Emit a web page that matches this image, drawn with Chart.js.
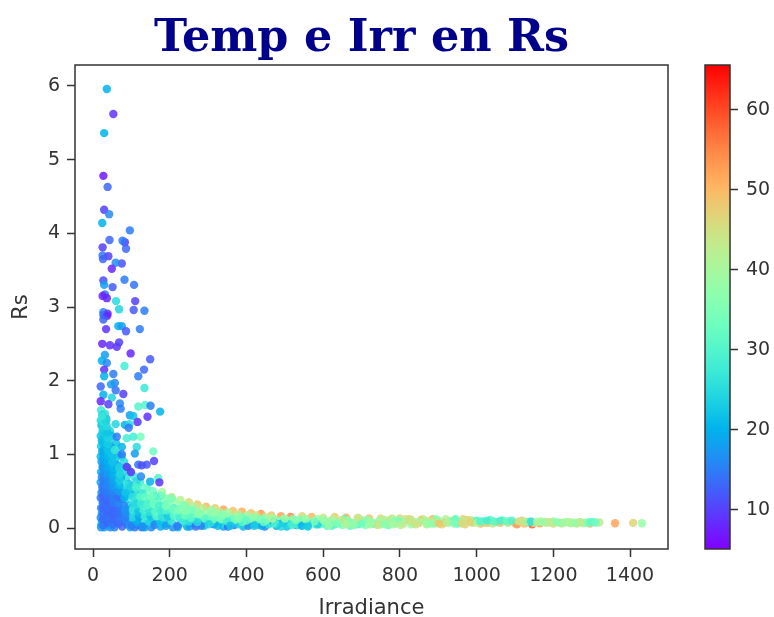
<!DOCTYPE html>
<html>
<head>
  <title>Temp e Irr en Rs</title>
  <script src="https://cdn.jsdelivr.net/npm/chart.js"></script>
  <style>
    html, body { margin: 0; padding: 0; background: #fff; }
    body { width: 774px; height: 617px; position: relative; overflow: hidden; }
    h1 { position: absolute; left: 0; top: 9px; width: 723px; margin: 0; text-align: center;
         font: bold 44.5px "DejaVu Serif", serif; color: #00008b; filter: blur(0.5px); }
    .box { position: absolute; top: 0; height: 617px; filter: blur(0.75px); }
    #main { left: 0; width: 700px; }
    #bar { left: 700px; width: 74px; }
  </style>
</head>
<body>
  <h1>Temp e Irr en Rs</h1>
  <div class="box" id="main"><canvas id="scatter" width="700" height="617"></canvas></div>
  <div class="box" id="bar"><canvas id="colorbar" width="74" height="617"></canvas></div>

  <script>
    const xTicks = [0, 200, 400, 600, 800, 1000, 1200, 1400];
    const yTicks = [0, 1, 2, 3, 4, 5, 6];
    const barTicks = [10, 20, 30, 40, 50, 60];
    const TEMP_MIN = 5.1, TEMP_MAX = 65.6;

    // tail of the cloud, drawn first so the rest sits on top
    const bandIrr = [
      180,205,228,250,272,295,318,340,365,388,412,438,
      465,490,515,545,570,600,630,660,690,720,750,780,
      190,212,240,262,285,308,330,352,378,402,425,450,
      245,270,298,325,348,372,395,420,445,470,495,520,
      250,275,300,330,355,382,410,436,462,490,515,540,
      245,265,290,315,340,368,392,418,448,478,505,530,
      545,565,585,600,620,640,655,675,695,715,735,755,
      560,580,610,630,650,670,690,710,730,750,770,790,
      800,825,860,885,920,945,965,985,
      775,795,815,835,855,875,895,915,935,955,975,995,
      810,830,850,870,890,910,930,950,970,990,1010,1030,
      1105,1125,1145,1165,1182,1200,1218,1235,1250,1268,1285,1305,
      1000,1018,1036,1052,1068,1085,1100,1118,1135,1150,1168,1185,
      1200,1222,1245,1262,1278,1295,1320,1361,1408,1431
    ];
    const bandRs = [
      .49,.42,.38,.35,.32,.29,.27,.25,.23,.22,.2,.19,
      .17,.16,.15,.16,.15,.14,.15,.14,.14,.13,.13,.13,
      .4,.36,.31,.29,.27,.24,.22,.21,.19,.17,.17,.15,
      .25,.22,.21,.18,.15,.16,.13,.14,.12,.13,.11,.12,
      .17,.14,.12,.11,.09,.1,.08,.09,.07,.08,.06,.07,
      .02,.06,.03,.05,.02,.04,.02,.05,.02,.03,.02,.04,
      .11,.07,.12,.06,.1,.08,.12,.05,.09,.11,.06,.1,
      .03,.05,.03,.05,.04,.03,.05,.04,.06,.05,.04,.06,
      .13,.12,.12,.12,.12,.12,.12,.11,
      .11,.08,.12,.07,.11,.09,.12,.07,.1,.08,.11,.09,
      .06,.05,.07,.05,.06,.05,.08,.06,.05,.07,.06,.07,
      .05,.06,.05,.065,.07,.09,.07,.08,.075,.08,.07,.08,
      .1,.09,.11,.08,.1,.09,.07,.1,.08,.07,.09,.08,
      .06,.06,.065,.06,.065,.06,.075,.065,.07,.065
    ];
    const bandTemp = [
      40,44,42,46,48,50,47,52,49,51,48,53,
      48,52,55,46,50,44,47,51,45,49,46,43,
      36,38,37,40,42,39,44,41,43,40,45,42,
      34,36,38,35,37,40,36,38,35,39,37,36,
      30,32,28,31,27,33,29,26,30,28,31,29,
      20,17,22,15,19,14,21,17,16,20,22,18,
      35,30,38,33,42,36,31,39,44,37,34,41,
      28,33,31,27,35,32,29,36,30,38,33,35,
      46,48,44,50,42,31,47,43,
      42,38,45,40,47,43,36,49,41,34,46,39,
      44,38,48,41,35,46,32,30,47,44,50,48,
      54,50,58,52,43,38,48,36,42,40,34,33,
      30,29,32,28,31,33,52,48,27,44,40,46,
      46,42,40,45,38,50,43,52,47,38
    ];

    // more of the band, filling the gaps
    const fillIrr = [
      235,258,280,305,322,345,362,385,405,430,455,480,505,525,550,575,
      240,262,288,310,335,358,380,405,428,458,482,510,535,560,590,618,
      252,282,325,352,405,440,470,495,545,585,
      292,312,335,350,370,390,412,435,452,475,500,520,
      302,318,338,358,378,400,420,445,468,490,530,555,
      605,625,645,665,685,705,725,745,765,785,805,825,845,865,885,905,925,945,965,985,
      560,578,600,622,648,672,695,725,760,795,830,870,
      615,635,660,680,700,722,742,762,782,802,842,882,902,942,962,1002,1022,1042,1062,1082,
      1010,1028,1045,1062,1078,1092,1110,1128,1142,1158,1175,1192,1210,1228,1242,1258,1272,1290,1298,1310
    ];
    const fillRs = [
      .27,.24,.18,.17,.14,.18,.12,.15,.11,.11,.09,.1,.09,.1,.09,.08,
      .11,.09,.07,.08,.06,.06,.05,.05,.04,.05,.05,.05,.04,.06,.05,.07,
      .02,.03,.03,.02,.03,.03,.09,.07,.03,.05,
      .13,.12,.12,.09,.11,.08,.13,.12,.11,.06,.13,.04,
      .05,.21,.18,.03,.13,.1,.03,.08,.13,.02,.11,.12,
      .09,.11,.07,.1,.08,.1,.08,.09,.07,.09,.09,.1,.08,.1,.08,.09,.07,.1,.09,.08,
      .02,.09,.11,.03,.11,.07,.12,.07,.11,.1,.11,.06,
      .04,.06,.05,.04,.06,.05,.04,.05,.05,.04,.05,.06,.06,.06,.06,.07,.07,.06,.07,.07,
      .09,.1,.09,.1,.09,.1,.09,.085,.09,.085,.08,.075,.08,.075,.08,.07,.08,.075,.08,.075
    ];
    const fillTemp = [
      32,35,33,37,34,38,32,36,34,37,33,36,35,38,34,36,
      27,24,26,29,25,28,24,27,23,26,21,25,28,24,30,32,
      18,15,21,14,16,19,20,22,20,24,
      31,33,35,29,34,31,37,35,38,30,38,29,
      24,38,36,22,36,32,23,33,40,24,36,38,
      37,40,34,39,42,36,41,38,43,36,40,44,38,41,45,39,42,33,44,47,
      23,34,38,30,43,35,44,37,42,35,44,39,
      38,35,41,37,33,39,44,36,40,42,45,37,49,35,46,41,47,44,49,46,
      30,28,31,29,32,30,44,42,26,40,38,42,36,39,41,37,43,35,31,33
    ];

    // dense corner at low irradiance, one line per column, right to left
    const blobIrr = [
      232,218,240,225,236,221,
      205,193,210,198,202,192,208,
      178,170,184,172,180,169,176,
      156,163,151,160,154,166,158,152,
      140,134,146,137,143,133,145,139,135,
      123,118,128,120,126,119,130,122,117,127,
      107,113,102,110,104,115,100,108,112,103,109,
      90,96,86,93,88,98,85,95,91,87,94,89,97,
      75,81,71,78,73,82,70,79,74,80,72,77,83,76,
      60,55,64,58,62,56,65,59,54,63,57,61,55,64,58,62,56,
      44,49,41,47,43,50,42,48,45,40,46,43,49,41,47,44,50,42,48,45,
      31,35,29,33,36,28,34,30,35,32,28,36,30,34,29,33,35,31,28,34,32,30,36,29,
      21,24,20,22,25,20,23,21,24,20,22,25,21,23,20,24,22,20,25,21,23,20,24,22,21
    ];
    const blobRs = [
      .31,.26,.2,.14,.07,.01,
      .4,.33,.27,.2,.13,.06,.01,
      .44,.37,.3,.23,.16,.09,.02,
      .5,.43,.36,.29,.22,.15,.08,.01,
      .55,.48,.4,.33,.26,.19,.12,.06,.01,
      .62,.55,.47,.39,.32,.25,.17,.1,.04,.01,
      .7,.63,.56,.48,.41,.34,.27,.2,.13,.07,.01,
      .82,.76,.68,.6,.53,.46,.39,.31,.24,.17,.1,.05,.01,
      .97,.9,.82,.75,.68,.6,.53,.46,.39,.31,.23,.16,.09,.02,
      1.15,1.08,1,.93,.86,.78,.71,.64,.57,.5,.43,.36,.29,.22,.15,.08,.01,
      1.32,1.25,1.18,1.1,1.03,.96,.88,.81,.74,.67,.6,.52,.45,.38,.31,.24,.17,.1,.04,.01,
      1.55,1.48,1.41,1.34,1.27,1.2,1.13,1.05,.98,.91,.84,.76,.69,.62,.55,.48,.41,.34,.27,.2,.13,.08,.04,.01,
      1.6,1.53,1.46,1.39,1.32,1.25,1.18,1.11,1.04,.97,.9,.83,.76,.69,.62,.55,.48,.41,.34,.27,.2,.14,.09,.05,.01
    ];
    const blobTemp = [
      36,33,30,26,24,19,
      35,34,30,27,24,22,17,
      33,31,29,24,27,21,19,
      32,30,28,33,25,29,20,16,
      31,33,29,27,30,24,22,26,19,
      28,30,27,32,25,29,22,26,18,15,
      27,25,29,24,28,22,26,23,27,20,14,
      24,27,26,22,25,21,28,23,18,20,24,17,19,
      23,25,21,24,20,26,22,19,16,15,14,20,17,13,
      22,24,20,23,19,21,25,18,17,15,14,13,13,14,16,18,15,
      24,21,23,19,20,22,18,17,20,16,15,14,13,14,13,14,15,17,19,16,
      26,22,24,20,23,19,21,18,20,17,19,16,15,14,15,13,14,13,14,15,17,14,20,18,
      27,23,25,21,24,22,20,23,18,21,19,17,20,16,18,15,17,14,16,15,18,16,19,21,17
    ];

    // second pass over the corner, where the first left white gaps
    const gapIrr = [
      100,115,130,145,160,175,190,205,220,235,250,268,
      105,120,135,150,165,180,195,210,225,240,255,272,
      102,118,132,148,162,178,192,208,222,238,256,278,
      110,125,142,158,172,190,105,122,136,152,95,112,
      27,38,52,67,26,39,53,68,84,27,38,54,
      68,84,26,39,52,67,83,27,38,53,68,26,
      39,53,67,82,27,38,52,68,84,27,39,53,
      69,27,39,52,68,27,38,52,70,26,38,52,
      69,27,38,50,27,38,50,27,38,27,38,27,
      38,26,37,26,36,25,34,24
    ];
    const gapRs = [
      .03,.08,.02,.09,.04,.07,.03,.09,.03,.1,.09,.02,
      .15,.15,.16,.16,.16,.15,.16,.17,.17,.17,.2,.08,
      .24,.22,.24,.22,.22,.24,.24,.25,.24,.24,.14,.2,
      .32,.33,.31,.33,.3,.3,.42,.42,.42,.42,.55,.55,
      .04,.07,.05,.06,.12,.14,.12,.13,.13,.2,.21,.2,
      .2,.2,.27,.28,.27,.27,.26,.35,.35,.34,.34,.42,
      .43,.41,.41,.41,.5,.5,.5,.5,.48,.58,.58,.57,
      .58,.66,.66,.65,.65,.74,.74,.73,.73,.82,.82,.82,
      .82,.9,.9,.9,.98,.98,.98,1.06,1.06,1.14,1.14,1.22,
      1.22,1.3,1.3,1.38,1.38,1.45,1.45,1.52
    ];
    const gapTemp = [
      15,20,17,24,16,22,18,27,15,28,26,14,
      24,19,28,22,30,26,23,31,29,33,35,25,
      27,22,29,26,31,28,30,33,35,37,31,37,
      25,28,30,33,29,35,26,30,32,34,24,29,
      14,13,14,13,13,14,13,14,15,14,13,13,
      14,16,13,14,13,14,17,14,13,15,16,13,
      14,15,14,20,14,15,16,18,22,15,16,18,
      21,15,16,19,23,16,18,20,24,17,19,21,
      24,18,20,22,19,21,22,20,22,21,23,22,
      24,23,22,24,25,26,24,27
    ];

    // loose points above the cloud
    const sparseIrr = [
      36,53,29,27,38,29,42,24,96,83,43,77,25,86,25,40,26,75,59,49,27,82,107,51,29,31,25,36,60,110,68,106,134,27,38,
      27,37,27,34,66,75,86,122,24,44,62,68,98,31,23,149,36,82,29,133,29,53,118,57,47,20,134,59,79,27,49,20,40,70,72,
      118,136,150,175,142,96,105,116,59,83,95,93,124,105,88,62,114,75,157,109,75,57,159,140,118,127,88,99,125,170,149,173
    ];
    const sparseRs = [
      5.96,5.62,5.36,4.78,4.63,4.32,4.26,4.14,4.04,3.88,3.91,3.9,3.81,3.79,3.7,3.69,3.65,3.59,3.6,3.52,3.36,3.37,3.3,3.27,3.3,3.17,3.15,3.12,3.08,3.08,2.97,2.96,2.95,2.93,2.91,
      2.89,2.88,2.83,2.7,2.74,2.74,2.67,2.7,2.5,2.48,2.46,2.52,2.37,2.35,2.27,2.29,2.24,2.2,2.15,2.15,2.06,2.09,2.06,1.97,1.95,1.92,1.9,1.87,1.82,1.81,1.77,1.72,1.68,1.69,1.62,
      1.65,1.67,1.66,1.58,1.51,1.53,1.52,1.44,1.41,1.4,1.41,1.36,1.24,1.24,1.22,1.24,1.1,1.1,1.04,1.01,1,1.06,.91,.86,.86,.85,.83,.76,.7,.68,.63,.62
    ];
    const sparseTemp = [
      20,9,20,7,13,10,16,20,15,9,13,15,10,13,15,10,13,11,16,8,11,15,14,12,18,14,8,8,25,10,24,12,15,15,9,
      14,8,13,9,20,18,12,15,8,9,9,10,8,18,20,12,16,28,9,13,20,15,15,16,18,13,27,14,10,20,24,8,10,16,15,
      30,30,15,20,9,18,22,9,24,20,25,15,34,28,28,15,25,20,33,18,15,27,10,12,14,11,9,9,16,30,20,9
    ];

    const irradiance = [...bandIrr, ...fillIrr, ...blobIrr, ...gapIrr, ...sparseIrr];
    const rs = [...bandRs, ...fillRs, ...blobRs, ...gapRs, ...sparseRs];
    const temp = [...bandTemp, ...fillTemp, ...blobTemp, ...gapTemp, ...sparseTemp];

    // matplotlib "rainbow" colormap
    const rainbow = (t, alpha) => {
      const r = Math.min(1, Math.abs(2 * t - 0.5));
      const g = Math.sin(Math.PI * t);
      const b = Math.cos(Math.PI * t / 2);
      return `rgba(${Math.round(r * 255)},${Math.round(g * 255)},${Math.round(b * 255)},${alpha})`;
    };
    const tempColor = v => rainbow((v - TEMP_MIN) / (TEMP_MAX - TEMP_MIN), 0.85);

    const TEXT = '#333';
    const TICK_FONT = { family: '"DejaVu Sans", sans-serif', size: 19 };
    const LABEL_FONT = { family: '"DejaVu Sans", sans-serif', size: 21 };

    const frame = {
      id: 'frame',
      afterDraw(chart) {
        const a = chart.chartArea, c = chart.ctx;
        c.save();
        c.strokeStyle = TEXT;
        c.lineWidth = 1.5;
        c.strokeRect(a.left, a.top, a.width, a.height);
        c.restore();
      }
    };
    const tickGrid = { drawOnChartArea: false, drawTicks: true, tickLength: 8, tickColor: TEXT, tickWidth: 1.5 };
    const plain = v => String(v);

    new Chart(document.getElementById('scatter'), {
      type: 'scatter',
      data: {
        datasets: [{
          data: irradiance.map((x, i) => ({ x: x, y: rs[i] })),
          backgroundColor: temp.map(tempColor),
          borderWidth: 0,
          pointRadius: 4.2
        }]
      },
      options: {
        responsive: false,
        animation: false,
        layout: { padding: { top: 65, right: 32, left: 0, bottom: 0 } },
        plugins: { legend: { display: false }, tooltip: { enabled: false } },
        scales: {
          x: {
            type: 'linear', min: -47, max: 1499,
            title: { display: true, text: 'Irradiance', color: TEXT, font: LABEL_FONT, padding: { top: 0, bottom: -4 } },
            grid: tickGrid,
            border: { display: false },
            ticks: { color: TEXT, font: TICK_FONT, maxRotation: 0, autoSkip: false, padding: 8, callback: plain },
            afterBuildTicks: axis => { axis.ticks = xTicks.map(v => ({ value: v })); },
            afterFit: axis => { axis.height = 68; }
          },
          y: {
            type: 'linear', min: -0.285, max: 6.285,
            title: { display: true, text: 'Rs', color: TEXT, font: LABEL_FONT, padding: { top: 9, bottom: 0 } },
            grid: tickGrid,
            border: { display: false },
            ticks: { color: TEXT, font: TICK_FONT, autoSkip: false, padding: 7, callback: plain },
            afterBuildTicks: axis => { axis.ticks = yTicks.map(v => ({ value: v })); },
            afterFit: axis => { axis.width = 75; }
          }
        }
      },
      plugins: [frame]
    });

    // colour bar: one floating bar across the whole temperature range
    const barGradient = ctx => {
      const a = ctx.chart.chartArea;
      if (!a) return '#888';
      const g = ctx.chart.ctx.createLinearGradient(0, a.bottom, 0, a.top);
      for (let i = 0; i <= 32; i++) g.addColorStop(i / 32, rainbow(i / 32, 1));
      return g;
    };

    new Chart(document.getElementById('colorbar'), {
      type: 'bar',
      data: {
        labels: [''],
        datasets: [{
          data: [[TEMP_MIN, TEMP_MAX]],
          backgroundColor: barGradient,
          borderWidth: 0,
          barPercentage: 1,
          categoryPercentage: 1,
          borderSkipped: false
        }]
      },
      options: {
        responsive: false,
        animation: false,
        layout: { padding: { top: 65, right: 0, left: 5, bottom: 68 } },
        plugins: { legend: { display: false }, tooltip: { enabled: false } },
        scales: {
          x: { display: false },
          y: {
            position: 'right', min: TEMP_MIN, max: TEMP_MAX,
            grid: tickGrid,
            border: { display: false },
            ticks: { color: TEXT, font: TICK_FONT, padding: 8, autoSkip: false, callback: plain },
            afterBuildTicks: axis => { axis.ticks = barTicks.map(v => ({ value: v })); },
            afterFit: axis => { axis.width = 44; }
          }
        }
      },
      plugins: [frame]
    });
  </script>
</body>
</html>
